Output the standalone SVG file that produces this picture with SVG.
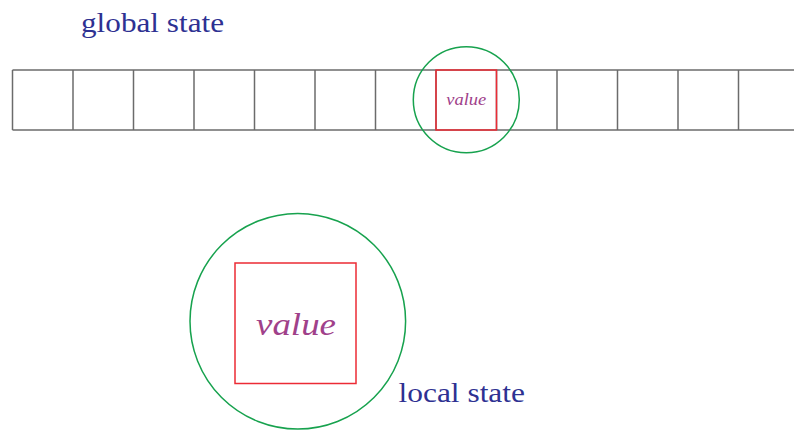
<svg xmlns="http://www.w3.org/2000/svg" width="794" height="430" viewBox="0 0 794 430">
<style>
.cell{fill:none;stroke:#6b6b6b;stroke-width:1.5}
.ring{fill:none;stroke:#17a24e;stroke-width:1.5}
.box{fill:none;stroke:#ec2b35;stroke-width:1.5}
.lbl{font-family:"Liberation Serif","DejaVu Serif",serif;fill:#2e3192}
.val{font-family:"Liberation Serif","DejaVu Serif",serif;font-style:italic;fill:#a0418a;text-anchor:middle}
</style>
<rect width="794" height="430" fill="#fff"/>
<g id="global-state">
<text class="lbl" x="81" y="32" font-size="28" textLength="143" lengthAdjust="spacingAndGlyphs">global state</text>
<g id="cells">
<line class="cell" x1="12.5" y1="70" x2="794" y2="70"/>
<line class="cell" x1="12.5" y1="130" x2="794" y2="130"/>
<line class="cell" x1="12.5" y1="70" x2="12.5" y2="130"/>
<line class="cell" x1="73" y1="70" x2="73" y2="130"/>
<line class="cell" x1="133.5" y1="70" x2="133.5" y2="130"/>
<line class="cell" x1="194" y1="70" x2="194" y2="130"/>
<line class="cell" x1="254.5" y1="70" x2="254.5" y2="130"/>
<line class="cell" x1="315" y1="70" x2="315" y2="130"/>
<line class="cell" x1="375.5" y1="70" x2="375.5" y2="130"/>
<line class="cell" x1="436" y1="70" x2="436" y2="130"/>
<line class="cell" x1="496.5" y1="70" x2="496.5" y2="130"/>
<line class="cell" x1="557" y1="70" x2="557" y2="130"/>
<line class="cell" x1="617.5" y1="70" x2="617.5" y2="130"/>
<line class="cell" x1="678" y1="70" x2="678" y2="130"/>
<line class="cell" x1="738.5" y1="70" x2="738.5" y2="130"/>
</g>
</g>
<g id="global-value">
<circle class="ring" cx="466.3" cy="99.7" r="53"/>
<rect class="box" x="436" y="70" width="60.5" height="60"/>
<text class="val" x="466.3" y="105" font-size="17" textLength="40" lengthAdjust="spacingAndGlyphs">value</text>
</g>
<g id="local-state">
<circle class="ring" cx="297.8" cy="321.3" r="107.8"/>
<rect class="box" x="235" y="263" width="121" height="120.5"/>
<text class="val" x="296" y="335" font-size="32" textLength="80" lengthAdjust="spacingAndGlyphs">value</text>
<text class="lbl" x="398.5" y="401.5" font-size="28" textLength="126.5" lengthAdjust="spacingAndGlyphs">local state</text>
</g>
<g id="connectors"></g>
</svg>
